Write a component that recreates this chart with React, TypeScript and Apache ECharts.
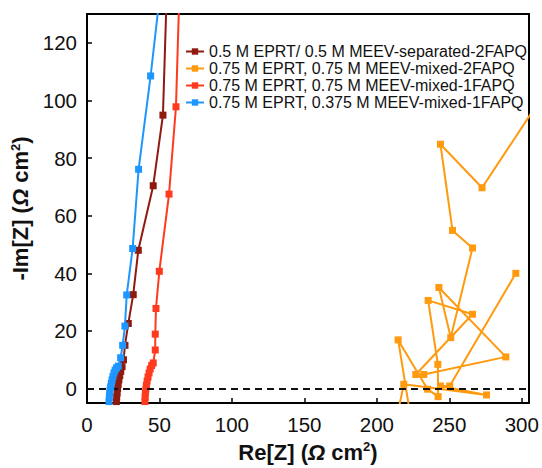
import { useEffect, useRef } from "react";
import * as echarts from "echarts";

const seriesNames = [
  "0.5 M EPRT/ 0.5 M MEEV-separated-2FAPQ",
  "0.75 M EPRT, 0.75 M MEEV-mixed-2FAPQ",
  "0.75 M EPRT, 0.75 M MEEV-mixed-1FAPQ",
  "0.75 M EPRT, 0.375 M MEEV-mixed-1FAPQ",
];
const seriesColors = ["#8E1A10", "#FF9A0F", "#FF3A1E", "#1E96FF"];

const xTicks = [0, 50, 100, 150, 200, 250, 300];
const yTicks = [0, 20, 40, 60, 80, 100, 120];

// [Re, -Im]
const separated2FAPQ: number[][] = [
  [20.3, -4.5], [20.5, -3], [20.8, -1.5], [21.1, 0], [21.5, 1.5], [22, 3],
  [22.6, 4.5], [23.3, 6], [24.2, 7.6], [25.2, 10], [26.2, 15], [28.5, 22.6],
  [31.9, 32.6], [35.4, 48], [45.7, 70.4], [52.4, 94.9], [55.8, 150],
];
const mixed2FAPQ: number[][] = [
  [295.9, 40], [250.3, 0.9], [243.9, 0.9], [275.7, -2.2], [218.6, 1.5],
  [213, -12], [224, -12], [214.7, 16.9], [235, -0.2], [242.3, -2.8],
  [242.1, 8.4], [235.4, 30.6], [266, 25.8], [226.9, 4.9], [232.4, 4.9],
  [289, 11], [242.8, 35.1], [251, 17.7], [266, 48.8], [252.2, 54.9],
  [243.9, 84.8], [272.6, 69.7], [330, 113.4],
];
const mixed1FAPQ: number[][] = [
  [40, -4.5], [40.1, -3], [40.3, -1.6], [40.6, -0.2], [41, 1.2], [41.5, 2.6],
  [42.1, 4], [42.8, 5.4], [43.6, 6.8], [44.6, 8], [45.7, 8.9], [47.1, 13.4],
  [47.1, 18.9], [47.6, 27.8], [49.9, 40.7], [56.6, 67.5], [61.4, 97.8], [64.5, 150],
];
const mixed1FAPQLow: number[][] = [
  [15.2, -4.5], [15.4, -3], [15.6, -1.8], [15.9, -0.6], [16.3, 0.6], [16.8, 1.8],
  [17.3, 3], [17.9, 4.2], [18.6, 5.4], [19.4, 6.4], [20.4, 7.2], [21.6, 7.8],
  [23.2, 10.7], [24.6, 15], [26.2, 21.7], [27.4, 32.5], [31.5, 48.6], [35.6, 76.1],
  [43.9, 108.5], [53.3, 150],
];

const seriesData = [separated2FAPQ, mixed2FAPQ, mixed1FAPQ, mixed1FAPQLow];

const FONT = "'Liberation Sans', Arial, Helvetica, sans-serif";

const nameRich = {
  b: { fontSize: 22, fontWeight: "bold", fontFamily: FONT, color: "#111" },
  i: { fontSize: 22, fontWeight: "bold", fontStyle: "italic", fontFamily: FONT, color: "#111" },
  s: { fontSize: 13, fontWeight: "bold", fontFamily: FONT, color: "#111", padding: [0, 0, 11, 0] },
};

export default function App() {
  const ref = useRef<HTMLDivElement>(null);
  useEffect(() => {
    const chart = echarts.init(ref.current!, null, { renderer: "svg" });
    chart.setOption({
      animation: false,
      backgroundColor: "#fff",
      grid: {
        left: 87, right: 13, top: 14, bottom: 60,
        show: true, borderColor: "#000", borderWidth: 2, containLabel: false,
      },
      legend: {
        orient: "vertical",
        left: 180,
        top: 38,
        itemWidth: 18,
        itemHeight: 8,
        itemGap: 0,
        data: seriesNames,
        textStyle: { fontSize: 16, lineHeight: 17, fontFamily: FONT, color: "#111" },
      },
      xAxis: {
        type: "value",
        min: 0,
        max: 305,
        interval: 50,
        splitLine: { show: false },
        axisLine: { show: true, onZero: false, lineStyle: { color: "#000", width: 2 } },
        axisTick: { show: true, inside: true, length: 5, customValues: xTicks, lineStyle: { color: "#000", width: 1.5 } },
        axisLabel: { customValues: xTicks, fontSize: 20.5, fontFamily: FONT, color: "#111", margin: 11 },
        name: "{b|Re[Z] (}{i|Ω}{b| cm}{s|2}{b|)}",
        nameLocation: "middle",
        nameGap: 37,
        nameTextStyle: { rich: nameRich },
      },
      yAxis: {
        type: "value",
        min: -5,
        max: 130,
        splitLine: { show: false },
        axisLine: { show: true, onZero: false, lineStyle: { color: "#000", width: 2 } },
        axisTick: { show: true, inside: true, length: 5, customValues: yTicks, lineStyle: { color: "#000", width: 1.5 } },
        axisLabel: { customValues: yTicks, fontSize: 20.5, fontFamily: FONT, color: "#111", margin: 10 },
        name: "{b|-Im[Z] (}{i|Ω}{b| cm}{s|2}{b|)}",
        nameLocation: "middle",
        nameGap: 50,
        nameTextStyle: { rich: nameRich },
      },
      series: seriesData.map((d, k) => ({
        name: seriesNames[k],
        type: "line",
        data: d,
        clip: true,
        symbol: "rect",
        symbolSize: 7,
        showAllSymbol: true,
        color: seriesColors[k],
        lineStyle: { color: seriesColors[k], width: 2 },
        itemStyle: { color: seriesColors[k] },
        emphasis: { disabled: true },
        z: 2 + k,
        ...(k === 3
          ? {
              markLine: {
                silent: true,
                symbol: ["none", "none"],
                label: { show: false },
                lineStyle: { color: "#111", type: [7, 5], width: 2 },
                data: [{ yAxis: 0 }],
              },
            }
          : {}),
      })),
    });
    return () => chart.dispose();
  }, []);
  return <div ref={ref} style={{ position: "absolute", left: 0, top: 0, width: 542, height: 468 }} />;
}
